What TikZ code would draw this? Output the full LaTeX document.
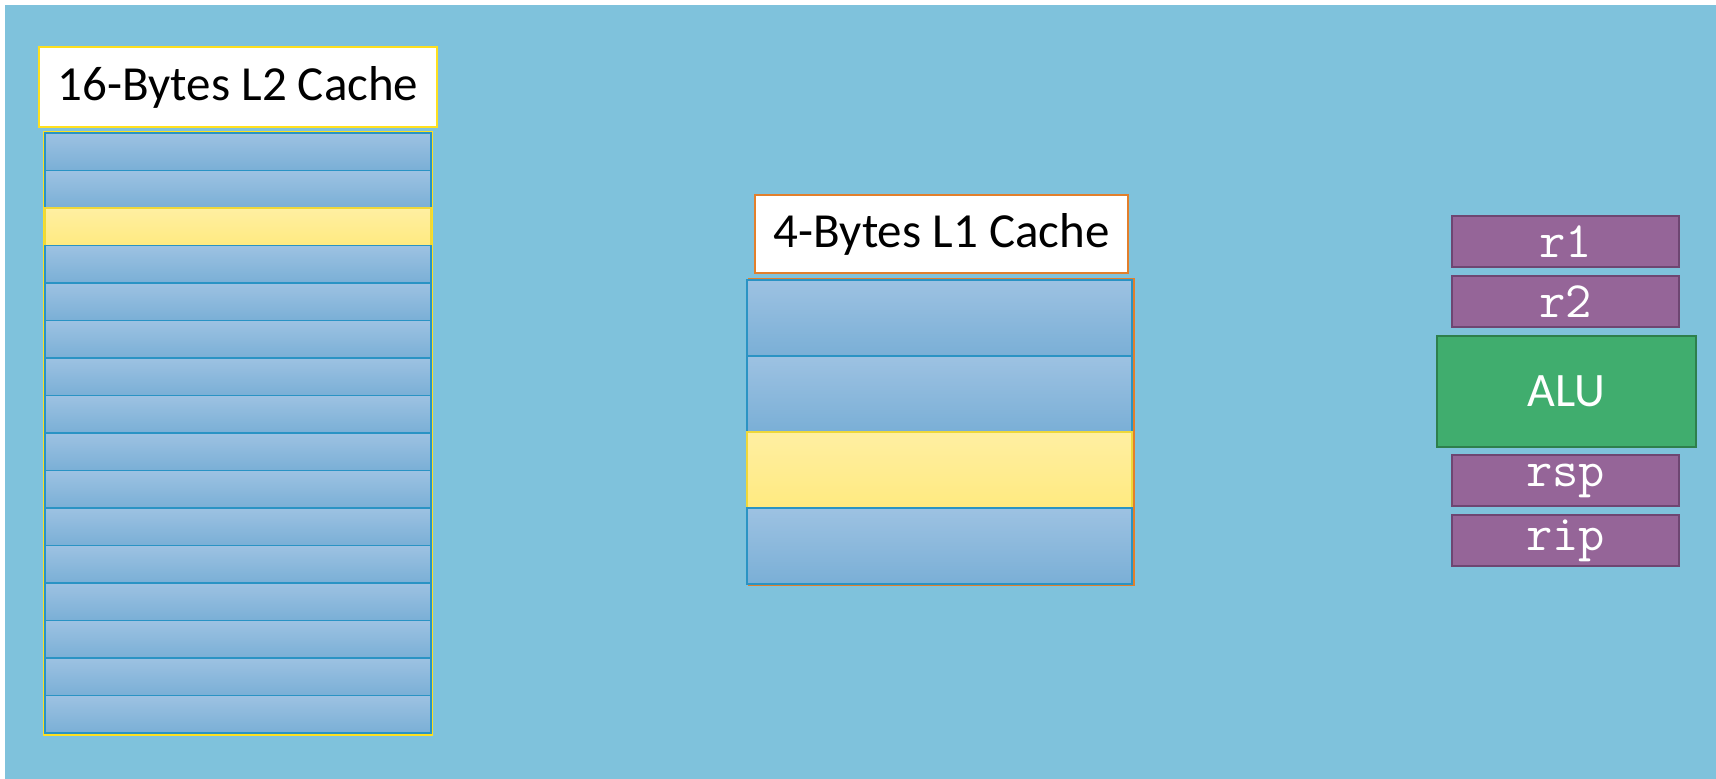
\documentclass[tikz,border=0pt]{standalone}
\usepackage{fontspec}
\setmainfont{Carlito}
\definecolor{bgblue}{HTML}{7FC2DC}
\definecolor{celltop}{HTML}{9DC2E2}
\definecolor{cellbot}{HTML}{7AAFD6}
\definecolor{cellline}{HTML}{2A93C4}
\definecolor{hiltop}{HTML}{FFEFA2}
\definecolor{hilbot}{HTML}{FFEA80}
\definecolor{hilline}{HTML}{EED83A}
\definecolor{ltwoline}{HTML}{FFE01E}
\definecolor{loneline}{HTML}{E27F2C}
\definecolor{regfill}{HTML}{956598}
\definecolor{regline}{HTML}{6E4672}
\definecolor{alufill}{HTML}{40AD6E}
\definecolor{aluline}{HTML}{2E7F4C}
\tikzset{
  px/.style={x=0.5pt,y=-0.5pt},
  linecell/.style 2 args={draw=cellline,line width=0.6pt,top color=celltop,bottom color=cellbot,
    minimum width=#1,minimum height=#2,inner sep=0pt},
  hilcell/.style 2 args={draw=hilline,line width=0.6pt,top color=hiltop,bottom color=hilbot,
    minimum width=#1,minimum height=#2,inner sep=0pt},
  titlebox/.style={fill=white,line width=1.4pt,inner sep=0pt,font=\fontsize{24.5}{28}\selectfont},
  regbox/.style={fill=regfill,draw=regline,line width=1pt,minimum width=113.5pt,minimum height=25.5pt,
    inner sep=0pt,text=white,font=\ttfamily\fontsize{25.5}{28}\selectfont},
  alubox/.style={fill=alufill,draw=aluline,line width=1.2pt,minimum width=129.5pt,minimum height=55.5pt,
    inner sep=0pt,text=white,font=\fontsize{24}{28}\selectfont},
}
\begin{document}
\begin{tikzpicture}[px]
  % page and backdrop
  \useasboundingbox (0,0) rectangle (1716,779);
  \fill[white] (0,0) rectangle (1716,779);
  \fill[bgblue] (5,5) rectangle (1716,779);

  % L2 cache: 16 lines, the third one highlighted
  \node[titlebox,draw=ltwoline,minimum width=199pt,minimum height=40pt] (l2title) at (238,87) {16-Bytes L2 Cache};
  \draw[ltwoline,line width=1.2pt] (44,132) rectangle (432,735);
  \foreach \i in {0,...,15}{
    \ifnum\i=2
      \node[hilcell={193pt}{18.75pt}] (l2r\i) at (238,{133+37.5*(\i+0.5)}) {};
    \else
      \node[linecell={193pt}{18.75pt}] (l2r\i) at (238,{133+37.5*(\i+0.5)}) {};
    \fi
  }

  % L1 cache: 4 lines, the third one highlighted
  \node[titlebox,draw=loneline,minimum width=186.5pt,minimum height=39pt] (l1title) at (941.5,234) {4-Bytes L1 Cache};
  \draw[loneline,line width=1.2pt] (749,279) rectangle (1134,585);
  \foreach \i in {0,...,3}{
    \ifnum\i=2
      \node[hilcell={192.5pt}{38pt}] (l1r\i) at (939.5,{280+76*(\i+0.5)}) {};
    \else
      \node[linecell={192.5pt}{38pt}] (l1r\i) at (939.5,{280+76*(\i+0.5)}) {};
    \fi
  }

  % register file and ALU
  \node[regbox] (r1) at (1565.5,241.5) {r1};
  \node[regbox] (r2) at (1565.5,301.5) {r2};
  \node[alubox] (alu) at (1566.5,391.5) {ALU};
  \node[regbox] (rsp) at (1565.5,480.5) {rsp};
  \node[regbox] (rip) at (1565.5,540.5) {rip};
\end{tikzpicture}
\end{document}
